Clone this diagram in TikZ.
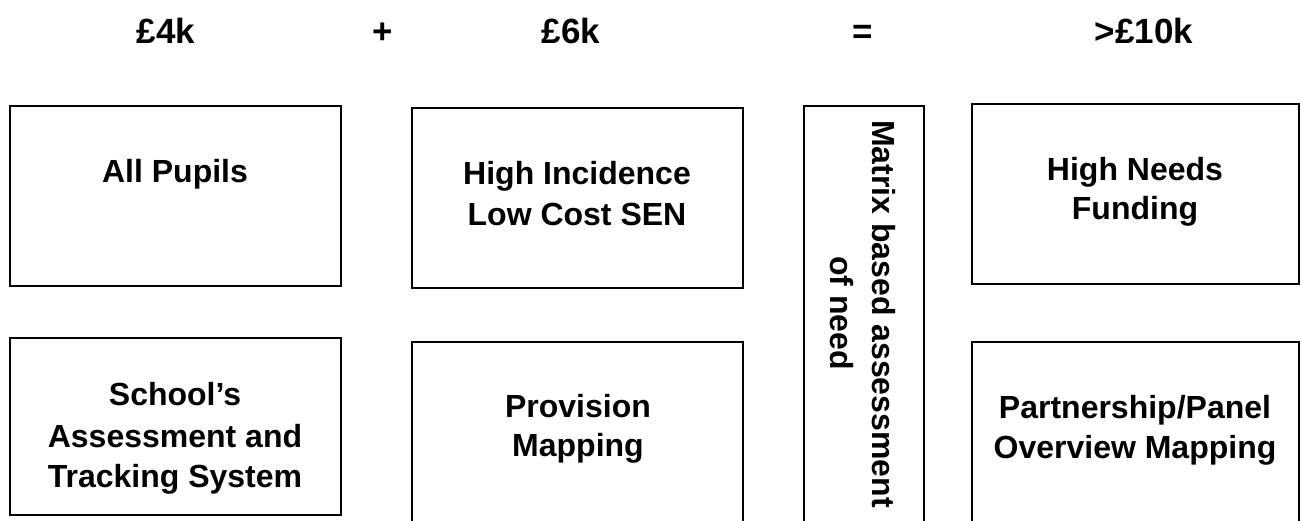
\documentclass[tikz,border=0pt]{standalone}
\usepackage{fontspec}
\setmainfont{Liberation Sans}
\begin{document}
\begin{tikzpicture}[x=1pt,y=-1pt,
  boxstyle/.style={draw=black, line width=1.6pt},
  lbl/.style={anchor=base, inner sep=0pt, font=\fontsize{32}{40}\selectfont\bfseries},
  hdr/.style={anchor=base, inner sep=0pt, font=\fontsize{35}{40}\selectfont\bfseries},
  vlbl/.style={anchor=base, inner sep=0pt, rotate=-90, font=\fontsize{32}{40}\selectfont\bfseries}]
\useasboundingbox (0,0) rectangle (1301,520);
\fill[white] (0,0) rectangle (1301,520);
\clip (0,0) rectangle (1301,520);
% headers
\node[hdr] (h1) at (166,43) {£4k};
\node[hdr] (h2) at (383,43) {+};
\node[hdr] (h3) at (571,43) {£6k};
\node[hdr] (h4) at (863,43) {=};
\node[hdr] (h5) at (1144,43) {>£10k};
% boxes
\draw[boxstyle] (10,106) rectangle (341,286);
\draw[boxstyle] (412,108) rectangle (743,288);
\draw[boxstyle] (10,338) rectangle (341,515);
\draw[boxstyle] (412,342) rectangle (743,540);
\draw[boxstyle] (804,106) rectangle (924,540);
\draw[boxstyle] (972,104) rectangle (1299,284);
\draw[boxstyle] (972,342) rectangle (1299,540);
% texts
\node[lbl] (t1) at (175,182) {All Pupils};
\node[lbl] (t2a) at (577,184) {High Incidence};
\node[lbl] (t2b) at (577,225) {Low Cost SEN};
\node[lbl] (t3a) at (175,405) {School’s};
\node[lbl] (t3b) at (175,447) {Assessment and};
\node[lbl] (t3c) at (175,487) {Tracking System};
\node[lbl] (t4a) at (578,417) {Provision};
\node[lbl] (t4b) at (578,456) {Mapping};
\node[lbl] (t5a) at (1135,180) {High Needs};
\node[lbl] (t5b) at (1135,219) {Funding};
\node[lbl] (t6a) at (1135,418) {Partnership/Panel};
\node[lbl] (t6b) at (1135,458) {Overview Mapping};
\node[vlbl] (v1) at (872,314) {Matrix based assessment};
\node[vlbl] (v2) at (830,313) {of need};
\end{tikzpicture}
\end{document}
